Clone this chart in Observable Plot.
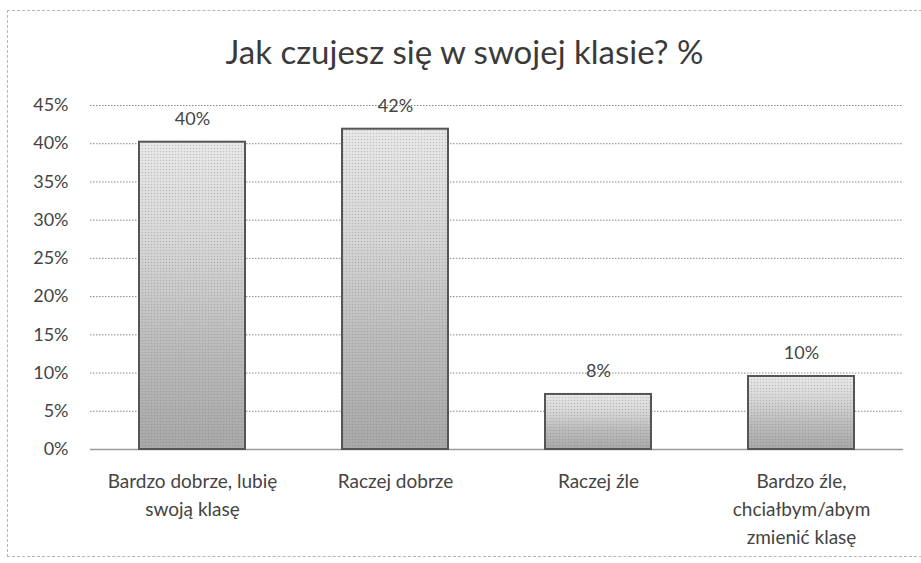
<!DOCTYPE html>
<html>
<head>
<meta charset="utf-8">
<script src="https://cdn.jsdelivr.net/npm/d3@7"></script>
<script src="https://cdn.jsdelivr.net/npm/@observablehq/plot@0.6"></script>
<style>
  html, body { margin: 0; padding: 0; background: #fff; }
  body { position: relative; width: 921px; height: 563px; overflow: hidden; font-family: Lato, "Open Sans", sans-serif; }
  #frame { position: absolute; left: 7px; top: 10px; width: 940px; height: 547px; border: 1px dashed #b5b5b5; box-sizing: border-box; }
  #title { position: absolute; left: 0; top: 31px; width: 921px; text-align: center; font-size: 33px; line-height: 40px; color: #3a3a3a; padding-left: 8px; box-sizing: border-box; }
  #chart { position: absolute; left: 0; top: 0; }
</style>
</head>
<body>
<svg width="0" height="0" style="position:absolute">
  <defs>
    <linearGradient id="barGrad" x1="0" y1="0" x2="0" y2="1">
      <stop offset="0" stop-color="#e9e9e9"/>
      <stop offset="0.35" stop-color="#d6d6d6"/>
      <stop offset="0.65" stop-color="#bdbdbd"/>
      <stop offset="1" stop-color="#a9a9a9"/>
    </linearGradient>
    <pattern id="dots" width="3" height="3" patternUnits="userSpaceOnUse">
      <circle cx="1.5" cy="1.5" r="0.75" fill="#666" fill-opacity="0.3"/>
    </pattern>
  </defs>
</svg>
<div id="frame"></div>
<div id="title">Jak czujesz się w swojej klasie? %</div>
<div id="chart"></div>
<script>
const categories = ["Bardzo dobrze, lubię swoją klasę", "Raczej dobrze", "Raczej źle", "Bardzo źle, chciałbym/abym zmienić klasę"];
const values = [0.402, 0.419, 0.072, 0.0955];
const valueLabels = ["40%", "42%", "8%", "10%"];
const tickLabels = ["Bardzo dobrze, lubię\nswoją klasę", "Raczej dobrze", "Raczej źle", "Bardzo źle,\nchciałbym/abym\nzmienić klasę"];
const yTicks = [0, 0.05, 0.10, 0.15, 0.20, 0.25, 0.30, 0.35, 0.40, 0.45];
const gridTicks = [0.05, 0.10, 0.15, 0.20, 0.25, 0.30, 0.35, 0.40, 0.45];

const data = categories.map((c, i) => ({category: c, value: values[i], label: valueLabels[i], tick: tickLabels[i]}));
const tickMap = new Map(data.map(d => [d.category, d.tick]));

const chart = Plot.plot({
  width: 921,
  height: 563,
  marginTop: 105,
  marginBottom: 114,
  marginLeft: 90,
  marginRight: 18,
  style: {fontFamily: "Lato, 'Open Sans', sans-serif", background: "transparent", color: "#444"},
  x: {domain: categories, paddingInner: 0.48, paddingOuter: 0.24, label: null},
  y: {domain: [0, 0.45], label: null},
  marks: [
    Plot.gridY(gridTicks, {stroke: "#8a8a8a", strokeOpacity: 1, strokeDasharray: "1.5,1.5", strokeWidth: 1}),
    Plot.ruleY([0], {stroke: "#9a9a9a", strokeWidth: 1.5}),
    Plot.barY(data, {x: "category", y: "value", fill: "url(#barGrad)"}),
    Plot.barY(data, {x: "category", y: "value", fill: "url(#dots)", stroke: "#555", strokeWidth: 2}),
    Plot.text(data, {x: "category", y: "value", text: "label", dy: -23, fontSize: 18, fill: "#444"}),
    Plot.axisY({ticks: yTicks, tickFormat: d => Math.round(d * 100) + "%", tickSize: 0, tickPadding: 22, fontSize: 18, fill: "#444"}),
    Plot.axisX({tickFormat: d => tickMap.get(d), tickSize: 0, tickPadding: 19, fontSize: 19, lineHeight: 1.47, fill: "#444"})
  ]
});
document.getElementById("chart").appendChild(chart);
</script>
</body>
</html>
